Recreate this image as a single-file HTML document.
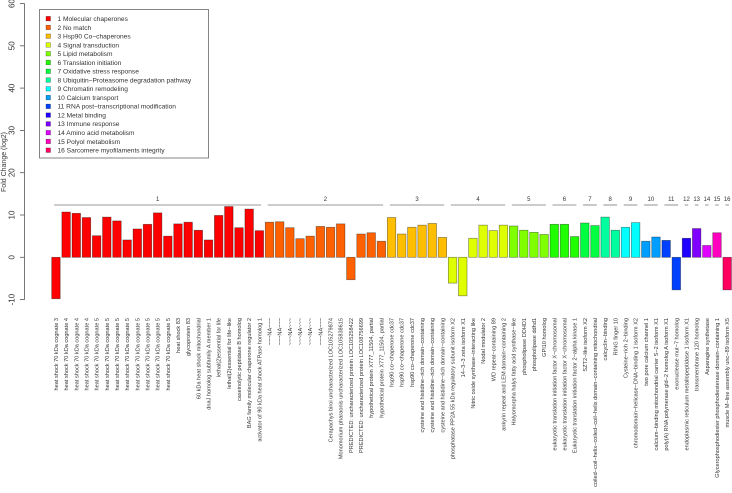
<!DOCTYPE html>
<html><head><meta charset="utf-8"><style>
html,body{margin:0;padding:0;background:#fff;}
svg{display:block;font-family:"Liberation Sans",sans-serif;}
</style></head><body>
<svg id="chart" width="732" height="493" viewBox="0 0 732 493"></svg>
<script>
const categoryNames = ["Molecular chaperones","No match","Hsp90 Co\u2212chaperones","Signal transduction","Lipid metabolism","Translation initiation","Oxidative stress response","Ubiquitin\u2212Proteasome degradation pathway","Chromatin remodeling","Calcium transport","RNA post\u2212transcriptional modification","Metal binding","Immune response","Amino acid metabolism","Polyol metabolism","Sarcomere myofilaments integrity"];
const categoryColors = ["#FF0000","#FF6000","#FFBF00","#DFFF00","#80FF00","#20FF00","#00FF40","#00FF9F","#00FFFF","#009FFF","#0040FF","#2000FF","#8000FF","#DF00FF","#FF00BF","#FF0060"];
const geneLabels = [
"heat shock 70 kDa cognate 3","heat shock 70 kDa cognate 4","heat shock 70 kDa cognate 4","heat shock 70 kDa cognate 4","heat shock 70 kDa cognate 5","heat shock 70 kDa cognate 5","heat shock 70 kDa cognate 5","heat shock 70 kDa cognate 5","heat shock 70 kDa cognate 5","heat shock 70 kDa cognate 5","heat shock 70 kDa cognate 5","heat shock 70 kDa cognate 5","heat shock 83","glycoprotein 83","60 kDa heat shock mitochondrial","dnaJ homolog subfamily A member 1","lethal(2)essential for life","lethal(2)essential for life\u2212like","caseinolytic peptidase B homolog","BAG family molecular chaperone regulator 2","activator of 90 kDa heat shock ATPase homolog 1",
"~~~NA~~~","~~~NA~~~","~~~NA~~~","~~~NA~~~","~~~NA~~~","~~~NA~~~","Cerapachys biroi uncharacterized LOC105279874","Monomorium pharaonis uncharacterized LOC105838615","PREDICTED: uncharacterized protein LOC105258422","PREDICTED: uncharacterized protein LOC108756699","hypothetical protein X777_11504, partial","hypothetical protein X777_11504, partial",
"hsp90 co\u2212chaperone cdc37","hsp90 co\u2212chaperone cdc37","hsp90 co\u2212chaperone cdc37","cysteine and histidine\u2212rich domain\u2212containing","cysteine and histidine\u2212rich domain\u2212containing","cysteine and histidine\u2212rich domain\u2212containing",
"phosphatase PP2A 55 kDa regulatory subunit isoform X2","14\u22123\u22123 zeta isoform X1","Nitric oxide synthase\u2212interacting like","Nodal modulator 2","WD repeat\u2212containing 89","ankyrin repeat and LEM domain\u2212containing 2",
"Halyomorpha halys fatty acid synthase\u2212like","phospholipase DDHD1","phospholipase ddhd1","GPI10 homolog",
"eukaryotic translation initiation factor X\u2212chromosomal","eukaryotic translation initiation factor X\u2212chromosomal","Eukaryotic translation initiation factor 2\u2212alpha kinase 1",
"SZT2\u2212like isoform X2","coiled\u2212coil\u2212helix\u2212coiled\u2212coil\u2212helix domain\u2212containing mitochondrial",
"calcyclin\u2212binding","RING finger 10",
"Cysteine\u2212rich 2\u2212binding","chromodomain\u2212helicase\u2212DNA\u2212binding 1 isoform X2",
"two pore calcium channel 1","calcium\u2212binding mitochondrial carrier S\u22122 isoform X1",
"poly(A) RNA polymerase gld\u22122 homolog A isoform X1","exonuclease mut\u22127 homolog",
"endoplasmic reticulum metallopeptidase 1 isoform X1",
"transmembrane 120 homolog",
"Asparagine synthetase",
"Glycerophosphodiester phosphodiesterase domain\u2212containing 1",
"muscle M\u2212line assembly unc\u221289 isoform X5"];
const geneGroups = [1,1,1,1,1,1,1,1,1,1,1,1,1,1,1,1,1,1,1,1,1, 2,2,2,2,2,2,2,2,2,2,2,2, 3,3,3,3,3,3, 4,4,4,4,4,4, 5,5,5,5, 6,6,6, 7,7, 8,8, 9,9, 10,10, 11,11, 12, 13, 14, 15, 16];
const foldChange = [-9.8,10.7,10.4,9.4,5.1,9.5,8.6,4.1,6.7,7.8,10.5,5.0,7.9,8.3,6.4,4.1,9.9,12.0,7.0,11.4,6.3,
8.3,8.4,7.0,4.4,5.0,7.3,7.1,7.9,-5.3,5.5,5.8,3.8,
9.4,5.5,7.1,7.6,8.0,4.7,
-6.1,-9.1,4.5,7.6,6.3,7.6,
7.4,6.4,5.9,5.4,
7.8,7.8,4.9,
8.1,7.5,
9.5,6.4,
7.1,8.2,
3.8,4.8,
4.0,-7.7,
4.5,6.8,2.8,5.8,-7.7];
const yTicks = [-10,0,10,20,30,40,50,60];

const NS="http://www.w3.org/2000/svg";
const svg=document.getElementById('chart');
function mk(tag,attrs,parent){const e=document.createElementNS(NS,tag);for(const k in attrs)e.setAttribute(k,attrs[k]);(parent||svg).appendChild(e);return e;}
const y0=257.3, pxPerUnit=4.23;
function yScale(v){return y0-v*pxPerUnit;}
const x0=51.7, step=10.17, bw=8.5;
function xScale(i){return x0+i*step;}

// axis
const axis=mk('g',{});


mk('line',{x1:24.5,x2:24.5,y1:yScale(-10),y2:yScale(60),stroke:'#555','stroke-width':0.8},axis);
yTicks.forEach(t=>{
  const yy=yScale(t);
  mk('line',{x1:20,x2:24.5,y1:yy,y2:yy,stroke:'#555','stroke-width':0.8},axis);
  const tx=mk('text',{x:0,y:0,'font-size':8,fill:'#333','text-anchor':'middle',transform:`translate(14.5,${yy}) rotate(-90)`},axis);
  
  
  tx.textContent=String(t);
});
const yt=mk('text',{x:0,y:0,'font-size':7,fill:'#333','text-anchor':'middle',transform:'translate(6,162) rotate(-90)'});


yt.textContent='Fold Change (log2)';

// bars
foldChange.forEach((v,i)=>{
  const x=xScale(i), top=Math.min(yScale(v),y0), h=Math.abs(yScale(v)-y0);
  const r=mk('rect',{x:x,y:top,width:bw,height:h,fill:categoryColors[geneGroups[i]-1],stroke:'rgba(0,0,0,0.45)','stroke-width':0.7});
  
  
  const tx=mk('text',{x:0,y:0,'font-size':5.6,fill:'#333','text-anchor':'end',transform:`translate(${x+bw/2+2},318) rotate(-90)`});
  
  
  tx.textContent=geneLabels[i];
});

// group brackets
for(let g=1; g<=16; g++){
  const idx=[]; geneGroups.forEach((gg,i)=>{if(gg===g)idx.push(i);});
  const xa=xScale(idx[0])+2.5, xb=xScale(idx[idx.length-1])+bw-2.5;
  const bl=mk('line',{x1:xa,x2:Math.max(xb,xa+2),y1:205,y2:205,stroke:'#777','stroke-width':0.8});
  
  
  const tx=mk('text',{x:(xa+xb)/2,y:201,'font-size':6,fill:'#333','text-anchor':'middle'});
  
  
  tx.textContent=String(g);
}

// legend
const lg=mk('g',{});


mk('rect',{x:39.5,y:9.5,width:169,height:148.5,fill:'#fff',stroke:'#666','stroke-width':0.8},lg);
categoryNames.forEach((n,i)=>{
  const yy=18.6+i*8.77;
  const s=mk('rect',{x:46,y:yy-2.2,width:4.5,height:4.5,fill:categoryColors[i],stroke:'rgba(0,0,0,0.5)','stroke-width':0.5},lg);
  
  
  const tx=mk('text',{x:57.5,y:yy+2.4,'font-size':6.6,fill:'#333'},lg);
  
  
  tx.textContent=(i+1)+' '+n;
});
</script>
</body></html>
